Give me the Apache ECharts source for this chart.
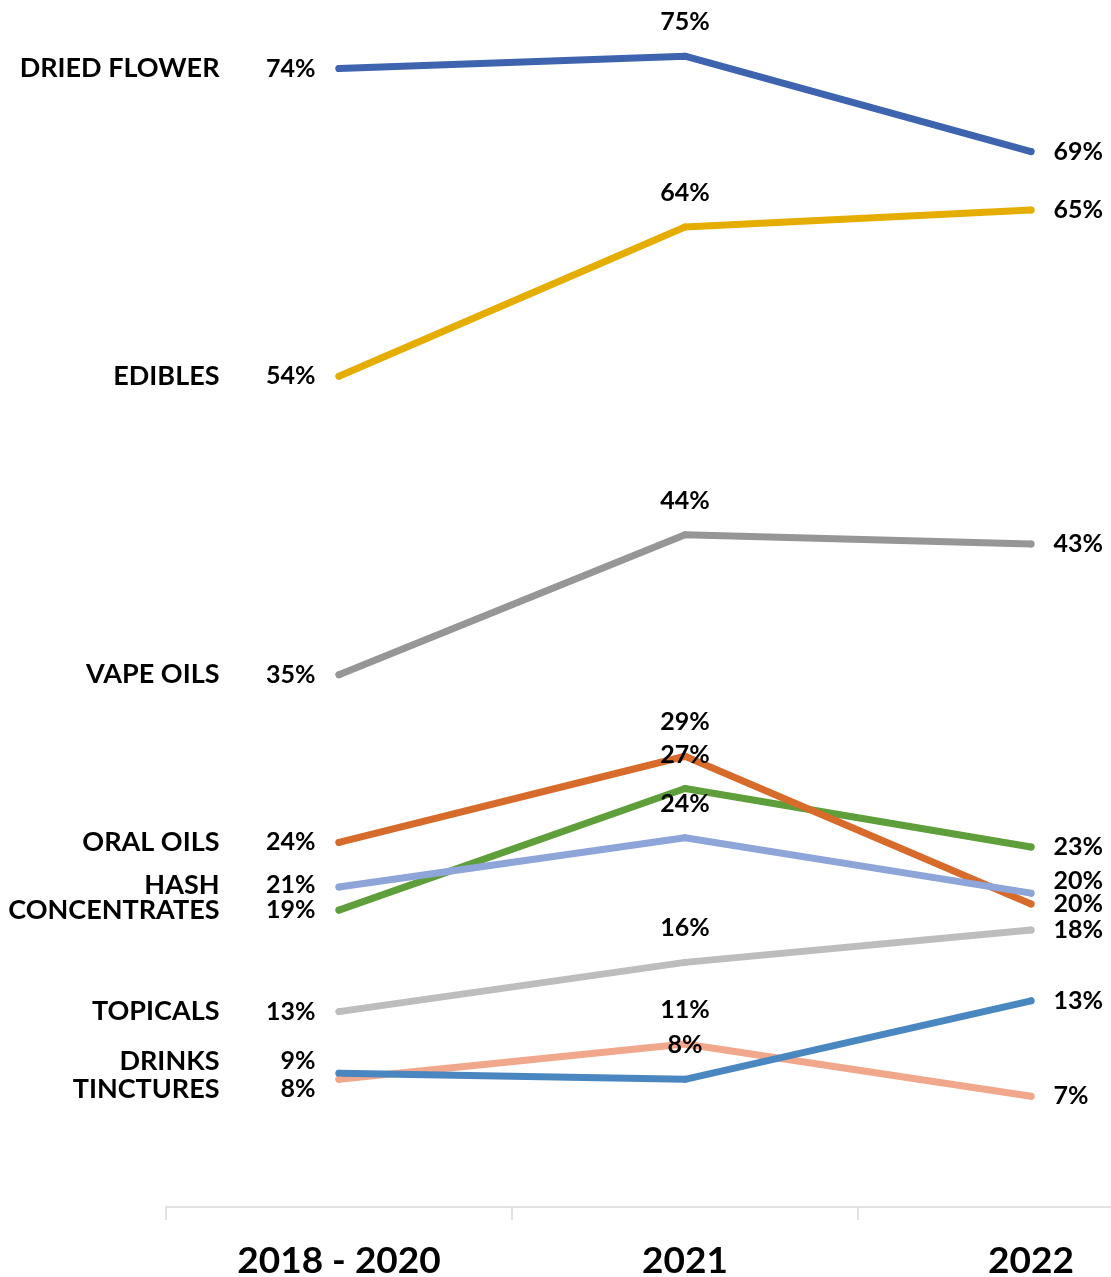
<!DOCTYPE html>
<html>
<head>
<meta charset="utf-8">
<script src="https://cdn.jsdelivr.net/npm/echarts@6/dist/echarts.min.js"></script>
<style>
  html, body { margin: 0; padding: 0; background: #fff; }
  #chart { width: 1111px; height: 1277px; }
</style>
</head>
<body>
<div id="chart"></div>
<script>
// categories along the x axis
var periods = ['2018 - 2020', '2021', '2022'];

// product names (left-hand labels)
var products = ['DRIED FLOWER', 'EDIBLES', 'VAPE OILS', 'CONCENTRATES', 'ORAL OILS', 'HASH', 'TOPICALS', 'TINCTURES', 'DRINKS'];

// share of users per period (%)
var driedFlower  = [74.0, 74.8, 68.6];
var edibles      = [54.0, 63.7, 64.8];
var vapeOils     = [34.6, 43.7, 43.1];
var concentrates = [19.3, 27.2, 23.4];
var oralOils     = [23.7, 29.3, 19.7];
var hash         = [20.8, 24.0, 20.4];
var topicals     = [12.7, 15.9, 18.0];
var tinctures    = [8.3, 10.6, 7.2];
var drinks       = [8.7, 8.3, 13.4];

var values = [driedFlower, edibles, vapeOils, concentrates, oralOils, hash, topicals, tinctures, drinks];
var colors = ['#3F64AF', '#E5AD00', '#969696', '#5E9E3B', '#D66B2C', '#8EA5D9', '#BDBDBD', '#F1A78B', '#4A87C0'];

// vertical label nudges so labels don't collide: series index -> [first, middle, last] in px
var nudges = {
  5: [-2, 0, -12],
  7: [10, 0, 0],
  8: [-12, 0, 0]
};

var FONT = 'Lato';

function pct(v) { return Math.round(v) + '%'; }

function buildData(idx) {
  var vals = values[idx];
  return vals.map(function (v, i) {
    var label;
    if (i === 0) {
      label = {
        show: true,
        position: 'left',
        distance: 20,
        formatter: '{n|' + products[idx] + '}{p|' + pct(v) + '}',
        rich: {
          n: { fontFamily: FONT, fontWeight: 'bold', fontSize: 27, color: '#000', align: 'right' },
          p: { fontFamily: FONT, fontWeight: 'bold', fontSize: 25, color: '#000', width: 96, align: 'right' }
        }
      };
    } else if (i === 1) {
      label = { show: true, position: 'top', distance: 18, formatter: pct(v) };
    } else {
      label = { show: true, position: 'right', distance: 19, formatter: pct(v) };
    }
    return { value: v, label: label };
  });
}

function makeLayout(idx) {
  return function (params) {
    var n = nudges[idx];
    return { hideOverlap: false, dy: n ? n[params.dataIndex] : 0 };
  };
}

var series = [];
for (var k = 0; k < products.length; k++) {
  series.push({
    name: products[k],
    type: 'line',
    data: buildData(k),
    symbol: 'circle',
    symbolSize: 7,
    showSymbol: true,
    lineStyle: { color: colors[k], width: 7, cap: 'round', join: 'round' },
    itemStyle: { color: colors[k] },
    label: { fontFamily: FONT, fontWeight: 'bold', fontSize: 25, color: '#000' },
    labelLayout: makeLayout(k),
    silent: true,
    animation: false
  });
}

var chart = echarts.init(document.getElementById('chart'));
chart.setOption({
  animation: false,
  grid: { left: 166, top: 7, right: -93, bottom: 70, containLabel: false, outerBoundsMode: 'none' },
  xAxis: {
    type: 'category',
    data: periods,
    boundaryGap: true,
    axisLine: { lineStyle: { color: '#D9D9D9', width: 1.5 } },
    axisTick: { show: true, length: 13, lineStyle: { color: '#D9D9D9', width: 1.5 } },
    axisLabel: { fontFamily: FONT, fontWeight: 'bold', fontSize: 37, color: '#000', margin: 36 }
  },
  yAxis: {
    type: 'value',
    min: 0,
    max: 78,
    show: false,
    splitLine: { show: false }
  },
  series: series
});
</script>
</body>
</html>
